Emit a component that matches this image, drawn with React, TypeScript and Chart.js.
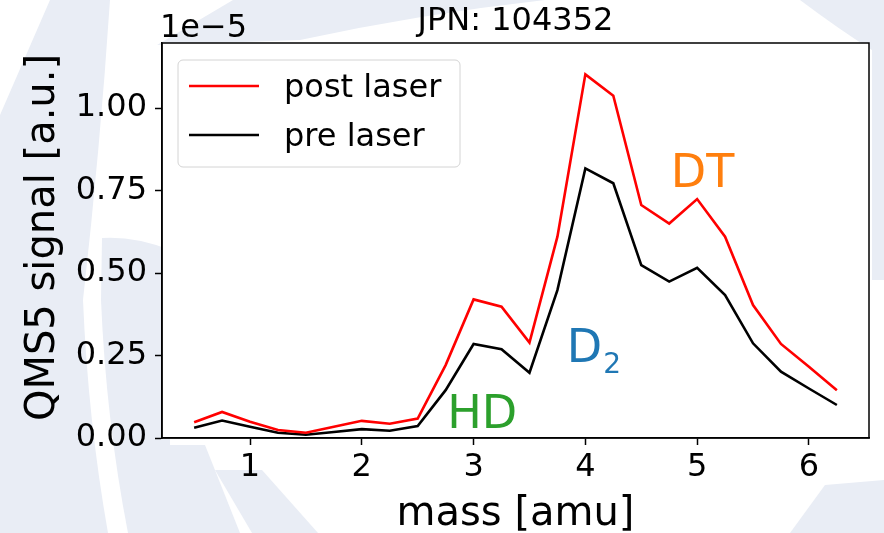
import React, { useEffect, useRef } from 'react';
import { Chart, registerables } from 'chart.js';

Chart.register(...registerables);

// ---- data (signal in units of 1e-5) ----
const massAmu = [0.5, 0.75, 1.0, 1.25, 1.5, 1.75, 2.0, 2.25, 2.5, 2.75, 3.0, 3.25, 3.5, 3.75, 4.0, 4.25, 4.5, 4.75, 5.0, 5.25, 5.5, 5.75, 6.0, 6.25];
const postLaser = [0.048, 0.079, 0.049, 0.024, 0.016, 0.034, 0.052, 0.043, 0.059, 0.221, 0.420, 0.398, 0.289, 0.610, 1.102, 1.037, 0.706, 0.650, 0.724, 0.610, 0.403, 0.285, 0.216, 0.145];
const preLaser = [0.031, 0.053, 0.034, 0.016, 0.010, 0.018, 0.027, 0.022, 0.036, 0.145, 0.285, 0.269, 0.198, 0.448, 0.817, 0.772, 0.524, 0.474, 0.516, 0.433, 0.287, 0.201, 0.150, 0.100];
const seriesLabels = ['post laser', 'pre laser'];
const xTicks = [1, 2, 3, 4, 5, 6];
const yTicks = [0, 0.25, 0.5, 0.75, 1.0];
const titleText = 'JPN: 104352';
const xLabel = 'mass [amu]';
const yLabel = 'QMS5 signal [a.u.]';
const offsetText = '1e\u22125';
const annotationText = ['HD', 'D', 'DT'];
const annotationSub = ['', '2', ''];
const annotationX = [2.8, 3.87, 4.8];
const annotationY = [0.03, 0.23, 0.76];
const annotationColor = ['#2ca02c', '#1f77b4', '#ff7f0e'];

const FONT = "'DejaVu Sans', sans-serif";
const WM = '#e9edf5';

const watermarkPlugin = {
  id: 'watermark',
  beforeDraw(chart: any) {
    const { ctx, width, height, chartArea } = chart;
    ctx.save();
    ctx.fillStyle = '#ffffff';
    ctx.fillRect(0, 0, width, height);
    ctx.fillStyle = WM;
    // left outer band
    ctx.beginPath();
    ctx.moveTo(50, 0);
    ctx.lineTo(110, 0);
    ctx.quadraticCurveTo(100, 150, 83, 300);
    ctx.quadraticCurveTo(88, 420, 108, 533);
    ctx.lineTo(0, 533);
    ctx.lineTo(0, 115);
    ctx.closePath();
    ctx.fill();
    // left inner band
    ctx.beginPath();
    ctx.moveTo(102, 238);
    ctx.quadraticCurveTo(135, 236, 170, 250);
    ctx.lineTo(170, 533);
    ctx.lineTo(128, 533);
    ctx.quadraticCurveTo(106, 420, 101, 300);
    ctx.closePath();
    ctx.fill();
    // top band
    ctx.beginPath();
    ctx.moveTo(233, 0);
    ctx.lineTo(545, 0);
    ctx.quadraticCurveTo(420, 14, 300, 40);
    ctx.lineTo(157, 45);
    ctx.closePath();
    ctx.fill();
    // bottom band
    ctx.beginPath();
    ctx.moveTo(165, 445);
    ctx.lineTo(205, 445);
    ctx.lineTo(240, 533);
    ctx.lineTo(165, 533);
    ctx.closePath();
    ctx.fill();
    ctx.beginPath();
    ctx.moveTo(215, 470);
    ctx.lineTo(262, 470);
    ctx.lineTo(318, 533);
    ctx.lineTo(252, 533);
    ctx.closePath();
    ctx.fill();
    // bottom right
    ctx.beginPath();
    ctx.moveTo(790, 533);
    ctx.lineTo(825, 485);
    ctx.lineTo(884, 480);
    ctx.lineTo(884, 533);
    ctx.closePath();
    ctx.fill();
    // right edge / top right
    ctx.beginPath();
    ctx.moveTo(800, 0);
    ctx.lineTo(884, 0);
    ctx.lineTo(884, 280);
    ctx.lineTo(872, 280);
    ctx.lineTo(872, 50);
    ctx.quadraticCurveTo(840, 30, 800, 0);
    ctx.closePath();
    ctx.fill();
    // plot face
    ctx.fillStyle = '#ffffff';
    ctx.fillRect(chartArea.left, chartArea.top, chartArea.right - chartArea.left, chartArea.bottom - chartArea.top);
    ctx.restore();
  },
};

const decorPlugin = {
  id: 'decor',
  afterDraw(chart: any) {
    const { ctx, chartArea, scales } = chart;
    const { left, right, top, bottom } = chartArea;
    ctx.save();
    // frame
    ctx.strokeStyle = '#000';
    ctx.lineWidth = 1.5;
    ctx.strokeRect(left, top, right - left, bottom - top);

    // annotations
    for (let i = 0; i < annotationText.length; i++) {
      const px = scales.x.getPixelForValue(annotationX[i]);
      const py = scales.y.getPixelForValue(annotationY[i]);
      ctx.fillStyle = annotationColor[i];
      ctx.font = `46px ${FONT}`;
      ctx.textAlign = 'left';
      ctx.textBaseline = 'alphabetic';
      const m = ctx.measureText(annotationText[i]);
      const ox = px + m.actualBoundingBoxLeft;
      ctx.fillText(annotationText[i], ox, py);
      if (annotationSub[i]) {
        ctx.font = `28px ${FONT}`;
        ctx.fillText(annotationSub[i], ox + m.width + 1, py + 11);
      }
    }

    // legend
    const lx = left + 16, ly = top + 17, lw = 282, lh = 107;
    ctx.beginPath();
    const r = 5;
    ctx.moveTo(lx + r, ly);
    ctx.arcTo(lx + lw, ly, lx + lw, ly + lh, r);
    ctx.arcTo(lx + lw, ly + lh, lx, ly + lh, r);
    ctx.arcTo(lx, ly + lh, lx, ly, r);
    ctx.arcTo(lx, ly, lx + lw, ly, r);
    ctx.closePath();
    ctx.fillStyle = 'rgba(255,255,255,0.8)';
    ctx.fill();
    ctx.strokeStyle = '#d4d4d4';
    ctx.lineWidth = 1;
    ctx.stroke();
    const ds = chart.data.datasets;
    for (let i = 0; i < ds.length; i++) {
      const yy = ly + 26 + i * 49;
      ctx.strokeStyle = ds[i].borderColor;
      ctx.lineWidth = 2.6;
      ctx.beginPath();
      ctx.moveTo(lx + 11, yy);
      ctx.lineTo(lx + 81, yy);
      ctx.stroke();
      ctx.fillStyle = '#000';
      ctx.font = `32px ${FONT}`;
      ctx.textAlign = 'left';
      ctx.textBaseline = 'alphabetic';
      ctx.fillText(ds[i].label, lx + 106, yy + 11);
    }

    // title
    ctx.fillStyle = '#000';
    ctx.font = `32px ${FONT}`;
    ctx.textAlign = 'center';
    ctx.textBaseline = 'alphabetic';
    ctx.fillText(titleText, (left + right) / 2, top - 13);
    // offset text
    ctx.textAlign = 'left';
    ctx.fillText(offsetText, left - 2, top - 6);
    // x label
    ctx.font = `40px ${FONT}`;
    ctx.textAlign = 'center';
    ctx.fillText(xLabel, (left + right) / 2, bottom + 87);
    // y label
    ctx.translate(54, (top + bottom) / 2 - 3);
    ctx.rotate(-Math.PI / 2);
    ctx.fillText(yLabel, 0, 0);
    ctx.restore();
  },
};

export default function App() {
  const ref = useRef<HTMLCanvasElement | null>(null);
  useEffect(() => {
    document.body.style.margin = '0';
    const canvas = ref.current!;
    const chart = new Chart(canvas, {
      type: 'line',
      data: {
        datasets: [
          {
            label: seriesLabels[0],
            data: massAmu.map((x, i) => ({ x, y: postLaser[i] })),
            borderColor: '#ff0000',
            backgroundColor: '#ff0000',
          },
          {
            label: seriesLabels[1],
            data: massAmu.map((x, i) => ({ x, y: preLaser[i] })),
            borderColor: '#000000',
            backgroundColor: '#000000',
          },
        ],
      },
      options: {
        animation: false,
        responsive: false,
        maintainAspectRatio: false,
        devicePixelRatio: 1,
        layout: { padding: { left: 0, right: 15, top: 43, bottom: 0 } },
        elements: {
          point: { radius: 0 },
          line: { tension: 0, borderWidth: 2.6 },
        },
        plugins: {
          legend: { display: false },
          title: { display: false },
          tooltip: { enabled: false },
        },
        scales: {
          x: {
            type: 'linear',
            min: 0.2125,
            max: 6.5375,
            afterBuildTicks: (s: any) => {
              s.ticks = xTicks.map((v) => ({ value: v }));
            },
            afterFit: (s: any) => {
              s.height = 95;
            },
            grid: { display: true, drawOnChartArea: false, drawTicks: true, tickLength: 7, tickWidth: 1.5, tickColor: '#000' },
            border: { display: true, color: '#000', width: 1.5 },
            ticks: {
              font: { family: FONT, size: 32 },
              color: '#000',
              padding: 3,
              maxRotation: 0,
              minRotation: 0,
              autoSkip: false,
              callback: (v: any) => String(v),
            },
          },
          y: {
            type: 'linear',
            min: 0,
            max: 1.197,
            afterBuildTicks: (s: any) => {
              s.ticks = yTicks.map((v) => ({ value: v }));
            },
            afterFit: (s: any) => {
              s.width = 162;
            },
            grid: { display: true, drawOnChartArea: false, drawTicks: true, tickLength: 7, tickWidth: 1.5, tickColor: '#000' },
            border: { display: true, color: '#000', width: 1.5 },
            ticks: {
              font: { family: FONT, size: 32 },
              color: '#000',
              padding: 8,
              autoSkip: false,
              callback: (v: any) => Number(v).toFixed(2),
            },
          },
        },
      },
      plugins: [watermarkPlugin, decorPlugin],
    } as any);
    return () => chart.destroy();
  }, []);
  return (
    <div style={{ position: 'absolute', left: 0, top: 0, width: 884, height: 533 }}>
      <canvas ref={ref} width={884} height={533} style={{ width: 884, height: 533, display: 'block' }} />
    </div>
  );
}
